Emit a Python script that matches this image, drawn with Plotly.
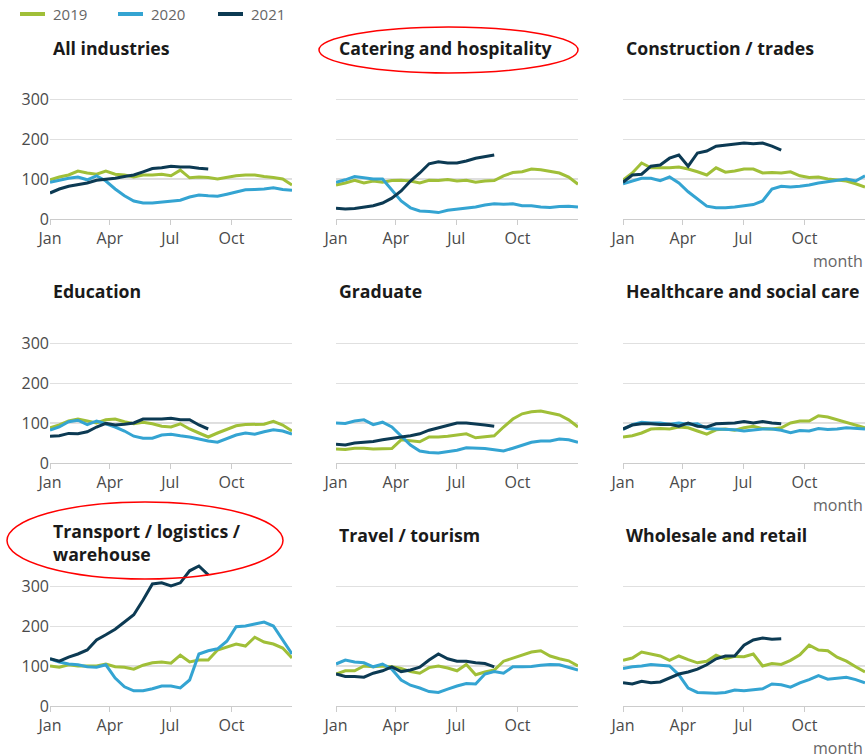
import pandas as pd
import plotly.graph_objects as go
from plotly.subplots import make_subplots

# fortnightly readings from Jan 1 to Dec 31; 2021 stops at the end of August
DATES = pd.date_range("2021-01-01", periods=27, freq="14D")
MONTH_TICKS = ["2021-01-01", "2021-04-01", "2021-07-01", "2021-10-01"]
MONTH_LABELS = ["Jan", "Apr", "Jul", "Oct"]
Y_TICKS = [0, 100, 200, 300]
YEARS = ["2019", "2020", "2021"]
COLORS = {"2019": "#a0bf38", "2020": "#34a4d2", "2021": "#0c3a53"}

TITLES = [
    "All industries", "Catering and hospitality", "Construction / trades",
    "Education", "Graduate", "Healthcare and social care",
    "Transport / logistics /<br>warehouse", "Travel / tourism", "Wholesale and retail",
]

ALL_2019 = [98, 105, 110, 120, 115, 112, 120, 112, 110, 105, 110, 110, 112, 108, 122, 103, 105, 104, 100, 104, 108, 110, 110, 106, 104, 100, 85]
ALL_2020 = [92, 97, 102, 105, 98, 108, 95, 75, 58, 45, 40, 40, 42, 45, 47, 55, 60, 58, 57, 62, 67, 73, 74, 75, 78, 74, 72]
ALL_2021 = [65, 75, 82, 86, 90, 97, 99, 102, 106, 110, 118, 126, 128, 132, 130, 130, 127, 125]

CAT_2019 = [85, 90, 97, 90, 95, 92, 96, 97, 95, 90, 97, 96, 99, 95, 97, 92, 95, 96, 108, 116, 118, 125, 123, 119, 115, 105, 87]
CAT_2020 = [92, 98, 106, 103, 100, 100, 72, 45, 28, 20, 19, 16, 22, 25, 27, 30, 35, 38, 37, 38, 33, 33, 30, 29, 31, 32, 30]
CAT_2021 = [27, 25, 26, 30, 33, 40, 52, 70, 95, 115, 138, 143, 140, 140, 145, 152, 156, 160]

CON_2019 = [97, 115, 140, 128, 128, 128, 130, 125, 118, 110, 128, 117, 120, 125, 125, 115, 116, 115, 118, 108, 104, 105, 100, 98, 95, 88, 80]
CON_2020 = [88, 95, 102, 102, 96, 105, 90, 68, 50, 32, 28, 28, 30, 33, 36, 45, 75, 82, 80, 82, 85, 90, 93, 96, 100, 95, 108]
CON_2021 = [92, 110, 112, 132, 135, 152, 160, 132, 165, 170, 182, 185, 188, 190, 188, 190, 182, 172]

EDU_2019 = [88, 95, 105, 110, 105, 100, 108, 110, 103, 98, 102, 98, 92, 90, 98, 85, 75, 65, 75, 85, 93, 96, 97, 97, 104, 95, 80]
EDU_2020 = [82, 90, 103, 107, 96, 105, 98, 90, 80, 67, 62, 62, 70, 72, 68, 65, 60, 55, 52, 62, 70, 75, 72, 78, 83, 80, 72]
EDU_2021 = [67, 68, 74, 73, 78, 90, 99, 95, 97, 100, 110, 110, 110, 112, 108, 108, 95, 85]

GRA_2019 = [35, 34, 37, 37, 35, 35, 36, 58, 55, 53, 65, 65, 67, 70, 73, 63, 65, 68, 90, 110, 123, 128, 130, 125, 120, 108, 90]
GRA_2020 = [100, 99, 105, 108, 96, 102, 90, 68, 45, 30, 26, 25, 28, 32, 38, 37, 36, 33, 30, 37, 45, 52, 55, 55, 60, 58, 52]
GRA_2021 = [47, 45, 50, 52, 54, 58, 62, 65, 68, 73, 82, 88, 93, 100, 100, 98, 95, 92]

HEA_2019 = [65, 68, 75, 85, 86, 85, 90, 88, 80, 72, 83, 85, 82, 88, 92, 86, 85, 88, 100, 105, 105, 118, 115, 108, 102, 95, 88]
HEA_2020 = [84, 96, 102, 100, 100, 97, 100, 97, 98, 86, 85, 84, 83, 80, 83, 85, 85, 82, 76, 81, 80, 86, 84, 85, 88, 86, 85]
HEA_2021 = [85, 95, 98, 98, 96, 97, 92, 100, 92, 90, 98, 99, 100, 104, 100, 104, 100, 98]

TRA_2019 = [100, 97, 103, 100, 100, 100, 105, 98, 97, 92, 102, 108, 110, 107, 127, 110, 115, 115, 140, 148, 155, 150, 172, 160, 155, 145, 120]
TRA_2020 = [118, 110, 105, 103, 98, 97, 103, 70, 48, 38, 38, 43, 50, 50, 45, 65, 130, 138, 143, 162, 198, 200, 205, 210, 200, 165, 130]
TRA_2021 = [118, 112, 122, 130, 140, 165, 178, 192, 210, 228, 265, 305, 308, 300, 308, 338, 350, 328]

TOU_2019 = [80, 88, 88, 100, 98, 100, 98, 94, 86, 82, 96, 100, 95, 88, 104, 78, 85, 90, 112, 120, 127, 135, 138, 125, 118, 113, 100]
TOU_2020 = [105, 115, 110, 108, 98, 105, 92, 65, 52, 45, 36, 34, 42, 50, 56, 55, 80, 86, 82, 98, 98, 99, 102, 104, 103, 96, 90]
TOU_2021 = [80, 74, 74, 72, 82, 88, 98, 86, 90, 97, 115, 130, 118, 112, 112, 108, 106, 98]

WHO_2019 = [114, 120, 135, 130, 125, 114, 125, 116, 108, 112, 127, 118, 124, 123, 130, 100, 106, 104, 114, 128, 152, 140, 138, 122, 112, 98, 85]
WHO_2020 = [94, 98, 100, 104, 102, 100, 78, 45, 34, 33, 32, 34, 40, 38, 40, 43, 55, 53, 47, 58, 66, 76, 67, 69, 72, 66, 58]
WHO_2021 = [58, 55, 62, 58, 60, 70, 80, 85, 92, 103, 118, 125, 125, 152, 165, 170, 167, 168]

PANELS = [
    (ALL_2019, ALL_2020, ALL_2021), (CAT_2019, CAT_2020, CAT_2021), (CON_2019, CON_2020, CON_2021),
    (EDU_2019, EDU_2020, EDU_2021), (GRA_2019, GRA_2020, GRA_2021), (HEA_2019, HEA_2020, HEA_2021),
    (TRA_2019, TRA_2020, TRA_2021), (TOU_2019, TOU_2020, TOU_2021), (WHO_2019, WHO_2020, WHO_2021),
]

W, H = 865, 755
COL_PX = [(50, 292), (336, 578), (623, 865)]
ROW_PX = [(69, 219), (313, 463), (556, 706)]  # plot area top/bottom in pixels
TITLE_Y = [48, 291, 535]
LEGEND_X = [20, 118, 218]  # left end of each legend swatch
LEGEND_Y = 14


def px_x(v):
    return v / W


def px_y(v):
    return 1 - v / H


fig = make_subplots(rows=3, cols=3)

for i, series in enumerate(PANELS):
    r, c = i // 3 + 1, i % 3 + 1
    for year, vals in zip(YEARS, series):
        fig.add_trace(
            go.Scatter(
                x=DATES[:len(vals)],
                y=vals,
                mode="lines",
                name=year,
                showlegend=False,
                line=dict(color=COLORS[year], width=3),
            ),
            row=r, col=c,
        )
    x0, x1 = COL_PX[c - 1]
    top, bot = ROW_PX[r - 1]
    fig.update_xaxes(
        domain=[px_x(x0), px_x(x1)],
        range=["2021-01-01", "2021-12-31"],
        tickvals=MONTH_TICKS,
        ticktext=MONTH_LABELS,
        showgrid=False,
        showline=True,
        linecolor="#cccccc",
        ticks="outside",
        ticklen=5,
        tickcolor="#cccccc",
        tickfont=dict(size=16, color="#4a4a4a"),
        automargin=False,
        row=r, col=c,
    )
    fig.update_yaxes(
        domain=[px_y(bot), px_y(top)],
        range=[0, 375],
        tickvals=Y_TICKS,
        showticklabels=(c == 1),
        showgrid=True,
        gridcolor="#e0e0e0",
        zeroline=False,
        tickfont=dict(size=16, color="#4a4a4a"),
        ticklabelstandoff=0,
        automargin=False,
        row=r, col=c,
    )
    fig.add_hline(y=100, line_color="#bdbdbd", line_width=1, layer="below", row=r, col=c)

    ty = TITLE_Y[r - 1] + (7 if i == 6 else 0)
    fig.add_annotation(
        text=f"<b>{TITLES[i]}</b>", xref="paper", yref="paper",
        x=px_x(x0 + 1), y=px_y(ty),
        xanchor="left", yanchor="middle", align="left", showarrow=False,
        font=dict(size=17.7, color="#1a1a1a"),
    )

# axis title on the right of each row
for r in range(3):
    fig.add_annotation(
        text="month", xref="paper", yref="paper",
        x=1.0, y=px_y(ROW_PX[r][1] + 42),
        xanchor="right", yanchor="middle", showarrow=False,
        font=dict(size=16, color="#666666"),
    )

# legend drawn by hand so it does not push the margins
for year, lx in zip(YEARS, LEGEND_X):
    fig.add_shape(
        type="line", xref="paper", yref="paper",
        x0=px_x(lx), x1=px_x(lx + 25), y0=px_y(LEGEND_Y), y1=px_y(LEGEND_Y),
        line=dict(color=COLORS[year], width=4),
    )
    fig.add_annotation(
        text=year, xref="paper", yref="paper",
        x=px_x(lx + 31), y=px_y(LEGEND_Y),
        xanchor="left", yanchor="middle", showarrow=False,
        font=dict(size=15, color="#666666"),
    )

# red highlight ellipses
for ex0, ey0, ex1, ey1 in [(319, 27, 578, 73), (7, 502, 283, 579)]:
    fig.add_shape(
        type="circle", xref="paper", yref="paper",
        x0=px_x(ex0), x1=px_x(ex1), y0=px_y(ey1), y1=px_y(ey0),
        line=dict(color="red", width=1.5),
    )

fig.update_layout(
    width=W, height=H,
    margin=dict(l=0, r=0, t=0, b=0),
    plot_bgcolor="white",
    paper_bgcolor="white",
    showlegend=False,
    font=dict(family="Open Sans", size=15, color="#444444"),
)

# drop the browser's default body margin so the figure fills the window
fig.write_html(
    "out.html",
    config={"displayModeBar": False},
    post_script="document.body.style.margin='0';document.body.style.overflow='hidden';",
)
